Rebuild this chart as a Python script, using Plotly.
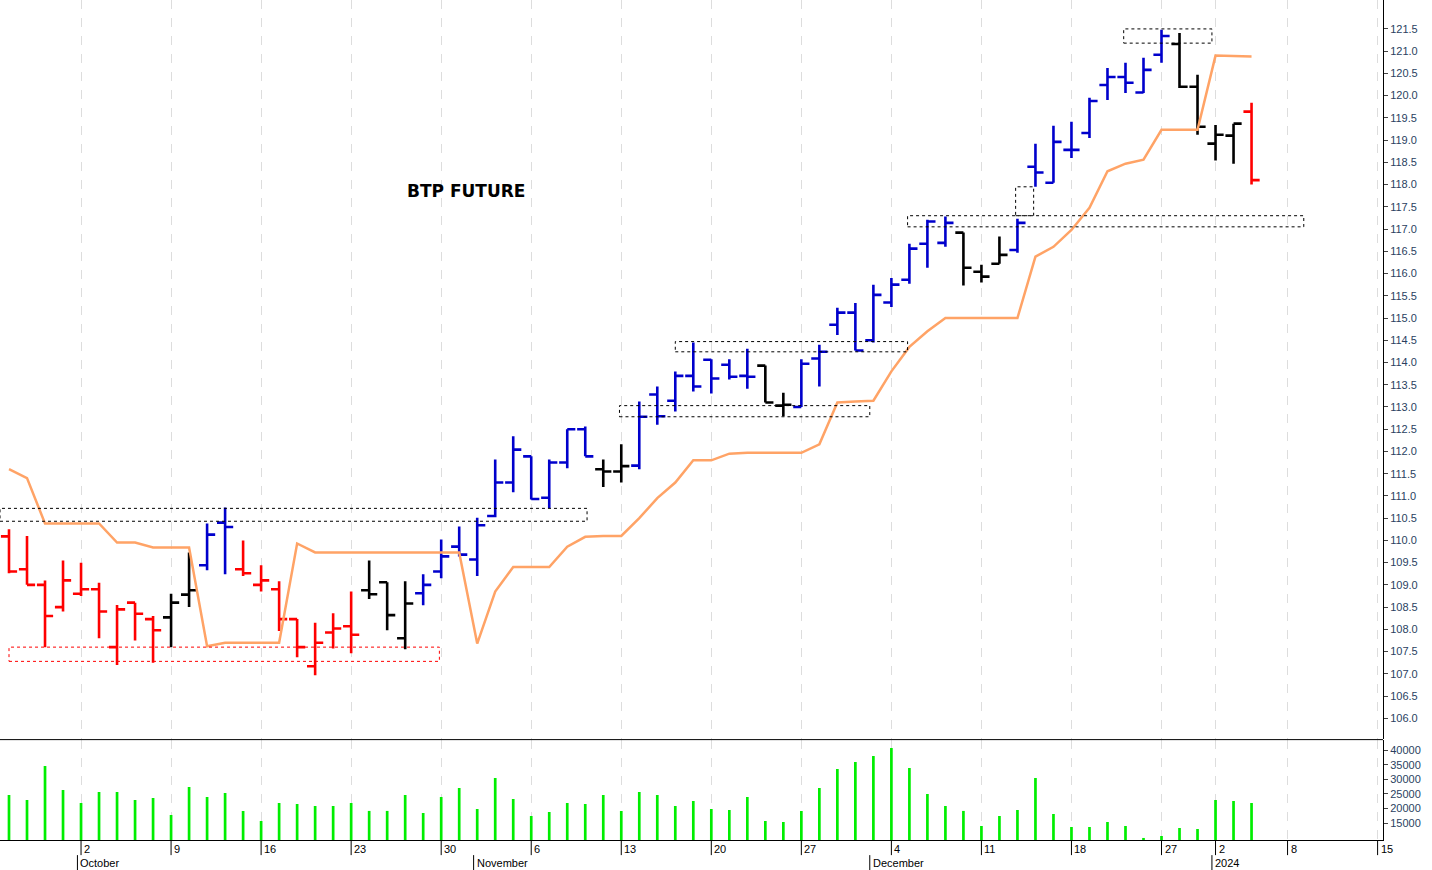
import plotly.graph_objects as go

# trading day index 0 = 26 Sep 2023 ... 69 = 4 Jan 2024
opens = [110.09, 109.35, 109.0, 108.5, 108.8, 108.9, 107.6, 108.6, 108.23, 108.27,
         108.78, 109.44, 110.4, 109.35, 109.0, 108.9, 108.23, 107.17, 107.93, 108.07,
         108.88, 109.06, 107.8, 108.81, 109.3, 109.86, 109.57, 110.55, 111.3, 111.89,
         110.96, 111.75, 112.5, 111.6, 111.55, 111.68, 113.28, 113.14, 113.7, 114.06,
         113.95, 113.7, 113.93, 113.03, 113.0, 114.09, 114.85, 115.12, 114.5, 115.35,
         115.86, 116.67, 116.69, 116.92, 116.04, 116.22, 116.53, 118.4, 118.04, 118.78,
         119.16, 120.24, 120.42, 120.07, 120.92, 121.16, 120.2, 118.92, 119.1, 119.64]
highs = [110.25, 110.1, 109.1, 109.55, 109.5, 109.05, 108.55, 108.6, 108.3, 108.8,
         109.73, 110.38, 110.74, 110.0, 109.44, 109.08, 108.23, 108.15, 108.36, 108.85,
         109.55, 109.06, 109.08, 109.24, 110.02, 110.31, 110.51, 111.82, 112.34, 111.89,
         111.82, 112.5, 112.56, 111.82, 112.16, 113.12, 113.46, 113.8, 114.45, 114.07,
         114.07, 114.31, 113.93, 113.32, 114.07, 114.4, 115.23, 115.34, 115.75, 115.9,
         116.67, 117.21, 117.28, 116.92, 116.2, 116.83, 117.23, 118.92, 119.32, 119.41,
         119.95, 120.62, 120.74, 120.85, 121.48, 121.41, 120.47, 119.34, 119.37, 119.84]
lows = [109.26, 109.0, 107.6, 108.4, 108.75, 107.8, 107.2, 107.75, 107.25, 107.6,
        108.5, 109.33, 109.24, 109.2, 108.85, 107.96, 107.37, 106.97, 107.57, 107.46,
        108.68, 107.98, 107.55, 108.54, 109.15, 109.64, 109.2, 110.52, 111.08, 110.92,
        110.72, 111.62, 111.89, 111.2, 111.3, 111.6, 112.6, 112.9, 113.35, 113.3,
        113.62, 113.41, 113.1, 112.79, 113.0, 113.46, 114.62, 114.27, 114.45, 115.25,
        115.77, 116.13, 116.6, 115.73, 115.8, 116.22, 116.47, 117.95, 118.04, 118.6,
        119.05, 119.9, 120.06, 120.06, 120.74, 120.17, 119.12, 118.54, 118.47, 118.0]
closes = [109.3, 109.0, 108.3, 109.1, 108.9, 108.4, 108.45, 108.35, 107.98, 108.6,
          108.88, 110.13, 110.3, 109.26, 109.1, 108.23, 107.6, 107.7, 108.02, 107.88,
          108.79, 108.32, 108.58, 109.0, 109.64, 109.68, 110.34, 111.3, 112.04, 110.93,
          111.75, 112.5, 111.89, 111.55, 111.67, 112.78, 112.79, 113.7, 113.46, 113.64,
          113.68, 113.68, 113.1, 113.05, 113.97, 114.24, 115.12, 114.27, 115.52, 115.75,
          116.56, 117.17, 117.14, 116.13, 115.93, 116.42, 117.14, 118.27, 118.96, 118.78,
          119.88, 120.42, 120.29, 120.58, 121.34, 120.2, 119.3, 119.12, 119.37, 118.1]
bar_colors = (["red"] * 9 + ["black"] * 2 + ["blue"] * 2 + ["red"] * 7 + ["black"] * 3
              + ["blue"] * 10 + ["black"] * 2 + ["blue"] * 7 + ["black"] * 2
              + ["blue"] * 9 + ["black"] * 3 + ["blue"] * 9 + ["black"] * 4 + ["red"])
stop_line = [111.6, 111.4, 110.38, 110.38, 110.38, 110.38, 109.95, 109.95, 109.84, 109.84,
             109.84, 107.62, 107.7, 107.7, 107.7, 107.7, 109.93, 109.73, 109.73, 109.73,
             109.73, 109.73, 109.73, 109.73, 109.73, 109.73, 107.68, 108.85, 109.4, 109.4,
             109.4, 109.86, 110.08, 110.1, 110.1, 110.5, 110.95, 111.3, 111.8, 111.8,
             111.95, 111.97, 111.97, 111.97, 111.97, 112.16, 113.1, 113.12, 113.14, 113.8,
             114.35, 114.7, 115.0, 115.0, 115.0, 115.0, 115.0, 116.38, 116.6, 116.98,
             117.48, 118.3, 118.47, 118.56, 119.23, 119.23, 119.23, 120.9, 120.89, 120.88]
volume = [24650, 22950, 34540, 26360, 21930, 25680, 25680, 22950, 23630, 17830,
          27380, 23970, 25340, 19200, 15790, 21930, 21590, 20900, 20900, 21930,
          19220, 19220, 24650, 18520, 23970, 27040, 19880, 30450, 23290, 17490,
          18860, 21930, 21590, 24650, 19200, 25680, 24650, 20900, 22610, 19880,
          19540, 23970, 15790, 15450, 19200, 27040, 33520, 35910, 37950, 40680,
          33860, 25000, 20900, 19220, 14080, 17490, 19540, 30450, 18180, 13740,
          13740, 15450, 14080, 10000, 10670, 13400, 13060, 22950, 22610, 21930]

day_pos = [-1, 4, 9, 14, 19, 24, 29, 34, 39, 44, 49, 54, 59, 64, 67, 71, 76]
day_text = ["25", "2", "9", "16", "23", "30", "6", "13", "20", "27", "4", "11", "18", "27", "2", "8", "15"]
month_pos = [4, 26, 48, 67]
month_text = ["October", "November", "December", "2024"]

# zones: (x0, x1, low, high, colour)
zones = [(-0.5, 32.1, 110.43, 110.72, "black"), (0, 23.9, 107.28, 107.6, "red"),
         (33.9, 47.8, 112.78, 113.03, "black"), (37, 49.9, 114.24, 114.47, "black"),
         (49.9, 71.9, 117.05, 117.3, "black"), (55.9, 56.9, 117.3, 117.95, "black"),
         (61.9, 66.8, 121.18, 121.5, "black")]

idx = list(range(len(opens)))
fig = go.Figure()
for c, hexc in [("red", "#ff0000"), ("black", "#000000"), ("blue", "#0000cc")]:
    sel = [i for i in idx if bar_colors[i] == c]
    fig.add_trace(go.Ohlc(x=sel, open=[opens[i] for i in sel], high=[highs[i] for i in sel],
                          low=[lows[i] for i in sel], close=[closes[i] for i in sel],
                          increasing_line_color=hexc, decreasing_line_color=hexc,
                          line_width=2.6, tickwidth=0.45, yaxis="y", xaxis="x",
                          showlegend=False))
fig.add_trace(go.Scatter(x=idx, y=stop_line, mode="lines", line=dict(color="#ffa366", width=2.5),
                         showlegend=False))
fig.add_trace(go.Bar(x=idx, y=volume, width=0.15, marker_color="#00ee00", marker_line_width=0,
                     xaxis="x2", yaxis="y2", showlegend=False))

for x0, x1, lo, hi, col in zones:
    fig.add_shape(type="rect", x0=x0, x1=x1, y0=lo, y1=hi, xref="x", yref="y",
                  line=dict(color=col if col == "black" else "#ff0000", width=1, dash="dot"))

for p, t in zip(day_pos, day_text):
    fig.add_annotation(x=p, y=0, xref="x2", yref="paper", text=t, showarrow=False,
                       xanchor="left", yanchor="top", xshift=1, yshift=-1,
                       font=dict(size=11, color="black"))
    fig.add_shape(type="line", x0=p, x1=p, y0=0, y1=-0.018, xref="x2", yref="paper",
                  line=dict(color="black", width=1))
for p, t in zip(month_pos, month_text):
    fig.add_annotation(x=p - 0.2, y=0, xref="x2", yref="paper", text=t, showarrow=False,
                       xanchor="left", yanchor="top", xshift=1, yshift=-15,
                       font=dict(size=11, color="black"))
    fig.add_shape(type="line", x0=p - 0.2, x1=p - 0.2, y0=-0.018, y1=-0.036, xref="x2", yref="paper",
                  line=dict(color="black", width=1))

fig.add_annotation(x=25.4, y=117.86, xref="x", yref="y", text="<b>BTP FUTURE</b>", showarrow=False,
                   font=dict(size=17, color="black", family="DejaVu Sans"))

xr = [-0.5, 76.3]
grid = dict(showgrid=True, gridcolor="#dddddd", griddash="dash", gridwidth=1,
            tickvals=day_pos, showticklabels=False, range=xr, zeroline=False)
fig.update_layout(
    width=1432, height=870, paper_bgcolor="white", plot_bgcolor="white",
    margin=dict(l=0, r=49, t=0, b=30, autoexpand=False),
    xaxis=dict(**grid, domain=[0, 1], anchor="y", rangeslider=dict(visible=False),
               matches="x2", showline=False),
    xaxis2=dict(**grid, domain=[0, 1], anchor="y2", showline=True, linecolor="black"),
    yaxis=dict(domain=[0.12, 1], range=[105.53, 122.15], side="right", showgrid=False,
               tickvals=[106 + 0.5 * k for k in range(32)], tickformat=".1f", ticks="outside",
               ticklen=4, tickfont=dict(size=11, family="Arial"), showline=True,
               linecolor="black", zeroline=False),
    yaxis2=dict(domain=[0, 0.119], range=[9300, 43400], side="right", showgrid=False,
                tickvals=[15000, 20000, 25000, 30000, 35000, 40000], tickformat="d",
                ticks="outside", ticklen=4,
                tickfont=dict(size=11, family="Arial"), showline=True, linecolor="black",
                zeroline=False),
    font=dict(family="Arial"),
)
fig.add_shape(type="line", x0=0, x1=1, y0=0.1195, y1=0.1195, xref="paper", yref="paper",
              line=dict(color="black", width=1))
# the page's default body margin would push the figure 8px off; remove it
fig.write_html("out.html", config={"displayModeBar": False},
               post_script="document.body.style.margin='0';")
